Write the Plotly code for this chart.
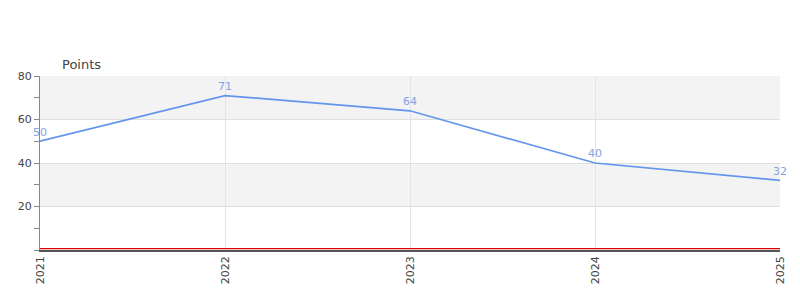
import plotly.graph_objects as go

years = ["2021", "2022", "2023", "2024", "2025"]
points = [50, 71, 64, 40, 32]
y_ticks = [20, 40, 60, 80]
bands = [(0, 20, "white"), (20, 40, "#f3f3f3"), (40, 60, "white"), (60, 80, "#f3f3f3")]

fig = go.Figure()
fig.add_trace(go.Scatter(
    x=years, y=points, mode="lines+markers+text",
    text=[str(v) for v in points], textposition="top center",
    textfont=dict(family="DejaVu Sans", size=11, color="#84a2e4"),
    marker=dict(size=3, color="rgba(0,0,0,0)"),
    line=dict(color="#6495ed", width=1.7), cliponaxis=False,
    hoverinfo="skip", showlegend=False,
))

for y0, y1, c in bands:
    fig.add_shape(type="rect", xref="paper", yref="y", x0=0, x1=1, y0=y0, y1=y1,
                  fillcolor=c, line_width=0, layer="below")
fig.add_shape(type="line", xref="paper", yref="y", x0=0, x1=1, y0=0.6, y1=0.6,
              line=dict(color="#dd0000", width=1.2))

fig.add_annotation(text="Points", xref="paper", yref="paper", x=0.027, y=1.0,
                   xanchor="left", yanchor="bottom", showarrow=False, yshift=2,
                   font=dict(family="DejaVu Sans", size=13, color="#444"))

fig.update_layout(
    width=800, height=300,
    margin=dict(l=40, r=20, t=76, b=50),
    paper_bgcolor="white", plot_bgcolor="white",
    font=dict(family="DejaVu Sans", size=11, color="#444"),
    xaxis=dict(type="category", range=[0, 4], tickangle=-90, showgrid=True,
               gridcolor="#e4e4e4", showline=True, linecolor="#555", linewidth=1.5,
               ticks="", zeroline=False, fixedrange=True),
    yaxis=dict(range=[0, 80], tickvals=y_ticks, showgrid=True, gridcolor="#e0e0e0",
               showline=True, linecolor="#888", linewidth=1, ticks="outside",
               ticklen=5, tickcolor="#888", zeroline=False,
               minor=dict(dtick=10, tick0=0, ticks="outside", ticklen=5, tickcolor="#888",
                          showgrid=False)),
)
fig.write_html("out.html")
